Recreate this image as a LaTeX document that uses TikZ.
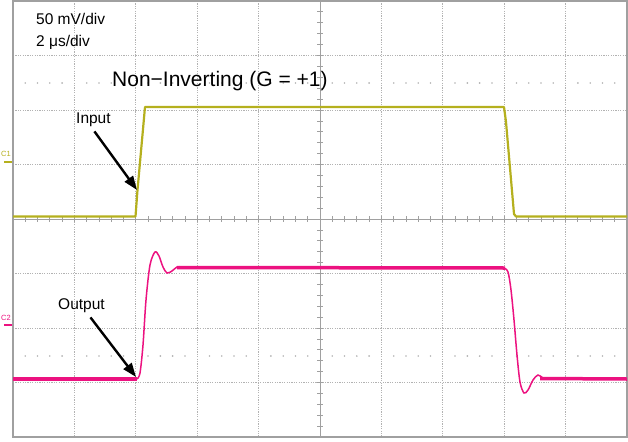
\documentclass[tikz,border=0pt]{standalone}
\usepackage{fontspec}
\setmainfont{Liberation Sans}
\usetikzlibrary{arrows.meta}
\definecolor{chone}{RGB}{181,176,30}
\definecolor{chtwo}{RGB}{236,18,128}
\definecolor{gridgray}{RGB}{178,178,178}
\definecolor{framegray}{RGB}{160,160,160}
\tikzset{
  gridline/.style={gridgray,line width=0.9pt,dash pattern=on 1.2pt off 1.2pt},
  pointer/.style={line width=2.4pt,-{Triangle[length=14pt,width=10pt]}},
  lbl/.style={font=\fontsize{15.5}{18}\selectfont,inner sep=0pt,anchor=base west},
  chlbl/.style={font=\fontsize{7.5}{8}\selectfont,inner sep=0pt},
}
\begin{document}
\begin{tikzpicture}[x=1pt,y=-1pt]
    \useasboundingbox (0,0) rectangle (628,441);
    \foreach \i in {1,2,3,4,6,7,8,9} {
        \draw[gridline] (13+61.4*\i,1) -- (13+61.4*\i,437);
    }
    \foreach \j in {1,2,3,5,6,7} {
        \draw[gridline] (13,1+54.5*\j) -- (627,1+54.5*\j);
    }
    \foreach \m in {0,...,9} {
        \foreach \k in {1,...,4} {
            \fill[gridgray] (13+61.4*\m+12.28*\k,83) circle (0.9);
            \fill[gridgray] (13+61.4*\m+12.28*\k,356) circle (0.9);
        }
    }
    \draw[framegray,line width=1pt] (13,219) -- (627,219);
    \draw[framegray,line width=1pt] (320,1) -- (320,437);
    \foreach \k in {1,...,49} {
        \draw[framegray,line width=0.8pt] (13+12.28*\k,216) -- (13+12.28*\k,222);
    }
    \foreach \k in {1,...,39} {
        \draw[framegray,line width=0.8pt] (317,1+10.9*\k) -- (323,1+10.9*\k);
    }
    \draw[framegray,line width=1.3pt] (13,1) rectangle (627,437);
    \draw[chone,line width=2.2pt,line join=round] (13,216.5) -- (135.5,216.5) -- (137.5,190) -- (145,107) -- (504,107)
        -- (506,122) -- (514,214) -- (516,216.5) -- (627,216.5);
    \draw[chtwo,line width=1.5pt] plot[smooth] coordinates {(137,379) (140,373) (143,345) (146,300) (150,265) (155,252)
        (159,256) (163,267) (167,273) (172,271) (177,267) (182,267) (188,268)};
    \draw[chtwo,line width=1.5pt] plot[smooth] coordinates {(504,268) (508,272) (511,290) (514,320) (517,355) (520,382)
        (524,393) (528,390) (533,380) (538,375) (543,378) (548,379)};
    \draw[chtwo,line width=3.5pt] (13,379) -- (137,379);
    \draw[chtwo,line width=3.5pt] (177,267.5) -- (505,268);
    \draw[chtwo,line width=3.5pt] (540,378.5) -- (627,379);
    \node[chlbl,chone] (cone) at (6,154) {C1};
    \draw[chone,line width=2pt] (4,162) -- (12,162);
    \node[chlbl,chtwo] (ctwo) at (6,318) {C2};
    \draw[chtwo,line width=2pt] (4,325) -- (12,325);
    \node[lbl] (vdiv) at (36,25) {50 mV/div};
    \node[lbl] (tdiv) at (36,47) {2 μs/div};
    \node[lbl,font=\fontsize{21}{24}\selectfont] (title) at (112,87) {Non−Inverting (G = +1)};
    \node[lbl] (inLbl) at (76,123) {Input};
    \node[lbl] (outLbl) at (58,309) {Output};
    \coordinate (inTip) at (137,190);
    \coordinate (outTip) at (136,377);
    \draw[pointer] ([xshift=1pt,yshift=-5pt]inLbl.south) -- (inTip);
    \draw[pointer] ([xshift=9pt,yshift=-5pt]outLbl.south) -- (outTip);
\end{tikzpicture}
\end{document}
